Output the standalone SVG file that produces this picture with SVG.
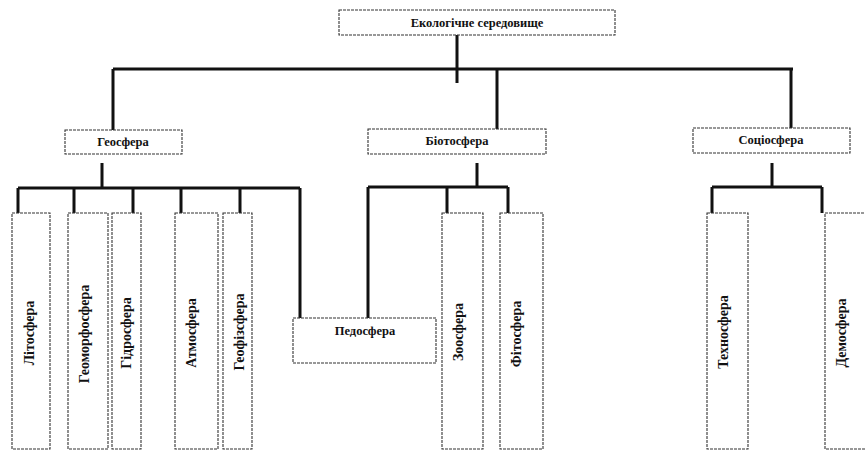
<svg xmlns="http://www.w3.org/2000/svg" width="865" height="451" viewBox="0 0 865 451">
<style>
.box{fill:#fff;stroke:#333;stroke-width:1.1;stroke-dasharray:3,1}
.t{font-family:"Liberation Serif","Times New Roman",serif;font-weight:bold;font-size:12.5px;fill:#111;text-anchor:middle;dominant-baseline:central}
.v{font-size:14px}
.c{stroke:#111;stroke-width:3;fill:none}
</style>
<rect width="865" height="451" fill="#fff"/>
<g id="connectors">
<path class="c" d="M457,35V83M113,69H793M113,69V130M497,69V129M791,69V128"/>
<path class="c" d="M102,163V188M18,188H300M18,188V213M74,188V213M133,188V213M181,188V213M240,188V213M300,188V318"/>
<path class="c" d="M477,163V187M368,187H508M368,187V318M447,187V213M508,187V213"/>
<path class="c" d="M772,163V187M712,187H822M712,187V213M822,187V213"/>
</g>
<g id="n-eko"><rect class="box" x="339" y="10" width="276" height="25"/><text class="t" x="477" y="23">Екологічне середовище</text></g>
<g id="n-geo"><rect class="box" x="65" y="130" width="117" height="24"/><text class="t" x="123" y="142">Геосфера</text></g>
<g id="n-bio"><rect class="box" x="368" y="129" width="178" height="25"/><text class="t" x="457" y="141">Біотосфера</text></g>
<g id="n-soc"><rect class="box" x="693" y="128" width="157" height="25"/><text class="t" x="771" y="140">Соціосфера</text></g>
<g id="n-lito"><rect class="box" x="12" y="213" width="38" height="236"/><text class="t v" transform="translate(29,333) rotate(-90)">Літосфера</text></g>
<g id="n-geomorf"><rect class="box" x="68" y="213" width="40" height="236"/><text class="t v" transform="translate(84,334) rotate(-90)">Геоморфосфера</text></g>
<g id="n-gidro"><rect class="box" x="112" y="213" width="29" height="236"/><text class="t v" transform="translate(126,333) rotate(-90)">Гідросфера</text></g>
<g id="n-atmo"><rect class="box" x="175" y="213" width="43" height="236"/><text class="t v" transform="translate(191,333) rotate(-90)">Атмосфера</text></g>
<g id="n-geofiz"><rect class="box" x="223" y="213" width="29" height="236"/><text class="t v" transform="translate(239,332) rotate(-90)">Геофізсфера</text></g>
<g id="n-pedo"><rect class="box" x="293" y="318" width="143" height="45"/><text class="t" x="365" y="331">Педосфера</text></g>
<g id="n-zoo"><rect class="box" x="442" y="213" width="41" height="236"/><text class="t v" transform="translate(458,332) rotate(-90)">Зоосфера</text></g>
<g id="n-fito"><rect class="box" x="500" y="213" width="43" height="236"/><text class="t v" transform="translate(516,334) rotate(-90)">Фітосфера</text></g>
<g id="n-tehno"><rect class="box" x="707" y="213" width="41" height="236"/><text class="t v" transform="translate(723,332) rotate(-90)">Техносфера</text></g>
<g id="n-demo"><rect class="box" x="825" y="213" width="42" height="236"/><text class="t v" transform="translate(841,333) rotate(-90)">Демосфера</text></g>
</svg>
